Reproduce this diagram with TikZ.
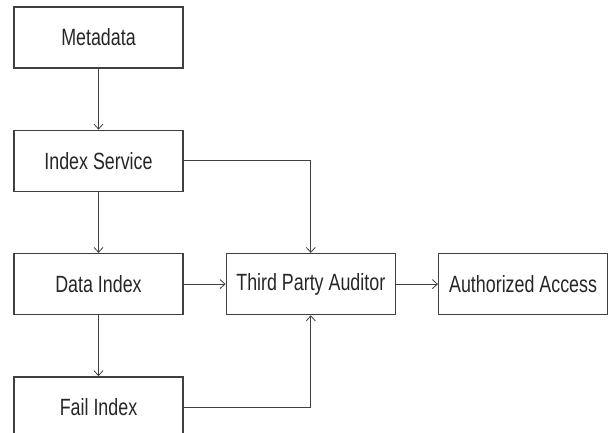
\documentclass[tikz,border=0pt]{standalone}
\usepackage{fontspec}
\setmainfont[FakeStretch=0.76]{Liberation Sans}
\usetikzlibrary{positioning,arrows.meta}
\tikzstyle{link} = [draw=black!75,line width=0.8pt,-{Straight Barb[length=5pt,width=9pt]}]

\begin{document}
\begin{tikzpicture}
		[
		x=1pt,y=1pt,
		node distance=61pt and 42pt,
		block/.style={
		draw=black!75,
		line width=1.3pt,
		rectangle,
		text=black!85,
		minimum width=169pt,
		minimum height=61pt,
		font=\fontsize{23.5}{26}\selectfont}
		]
		\useasboundingbox (0,0) rectangle (608,-432);
		\node[block](metadata) at (98.5,-37.5) {Metadata};
		\node[block,below=of metadata](index_service) {Index Service};
		\node[block,below=of index_service](data_index) {Data Index};
		\node[block,below=of data_index](fail_index) {Fail Index};
		\node[block,right=of data_index](auditor) {Third Party Auditor};
		\node[block,right=of auditor](auth_access) {Authorized Access};
		\draw[link] (metadata) -- (index_service);
		\draw[link] (index_service) -- (data_index);
		\draw[link] (data_index) -- (fail_index);
		\draw[link] (data_index) -- (auditor);
		\draw[link] (auditor) -- (auth_access);
		\draw[link] (index_service) -| (auditor);
		\draw[link] (fail_index) -| (auditor);
		\end{tikzpicture}
\end{document}
